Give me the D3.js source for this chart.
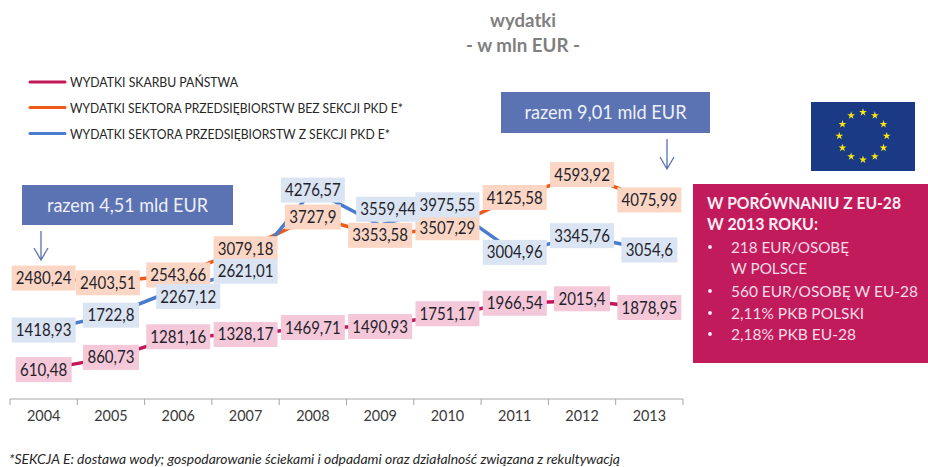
<!DOCTYPE html>
<html><head><meta charset="utf-8">
<script src="https://cdnjs.cloudflare.com/ajax/libs/d3/7.8.5/d3.min.js"></script>
<style>html,body{margin:0;padding:0;background:#fff}svg{display:block;font-family:Lato,sans-serif}</style>
</head><body><svg id="c" width="928" height="467"></svg>
<script>
const years = ["2004","2005","2006","2007","2008","2009","2010","2011","2012","2013"];
const skarb = [610.48,860.73,1281.16,1328.17,1469.71,1490.93,1751.17,1966.54,2015.4,1878.95];
const bezE = [2480.24,2403.51,2543.66,3079.18,3727.9,3353.58,3507.29,4125.58,4593.92,4075.99];
const zE = [1418.93,1722.8,2267.12,2621.01,4276.57,3559.44,3975.55,3004.96,3345.76,3054.6];
const seriesNames = ["WYDATKI SKARBU PAŃSTWA","WYDATKI SEKTORA PRZEDSIĘBIORSTW BEZ SEKCJI PKD E*","WYDATKI SEKTORA PRZEDSIĘBIORSTW Z SEKCJI PKD E*"];
const panelHead = ["W PORÓWNANIU Z EU-28","W 2013 ROKU:"];
const panelItems = [["218 EUR/OSOBĘ","W POLSCE"],["560 EUR/OSOBĘ W EU-28"],["2,11% PKB POLSKI"],["2,18% PKB EU-28"]];

const fmt = v => String(v).replace(".",",");
const svg = d3.select("#c");
const x = d3.scaleBand().domain(years).range([10,683]);
const y = d3.scaleLinear().domain([0,5000]).range([399.5,154.7]);

// Lato drawn narrower, to get the proportions of the reference's humanist face
const fit = (sel, w) => sel.attr("textLength", w).attr("lengthAdjust","spacingAndGlyphs");
const squeeze = (sel, f) => sel.each(function(){
  d3.select(this).attr("textLength", this.getComputedTextLength()*f).attr("lengthAdjust","spacingAndGlyphs");
});

const series = [
  {values:skarb, line:"#c2185b", box:"#f4c7d9", key:"s"},
  {values:bezE,  line:"#ee5a17", box:"#fbd6c4", key:"b"},
  {values:zE,    line:"#4a7cce", box:"#dae4f3", key:"z"}
];
// manual label nudges seen in the reference (series key + year): [dx, dy]
const nudge = {"b2005":[-3,1],"z2006":[10,8],"z2009":[8,-16],"s2012":[0,-2]};

// axis
const axis = d3.axisBottom(x).tickSize(0).tickPadding(11);
const ax = svg.append("g").attr("transform","translate(0,399)").call(axis);
ax.select(".domain").remove();
ax.selectAll("text").attr("font-family","Lato").attr("font-size",16).attr("fill","#3a3a3a").call(squeeze,0.9);
const edges = years.map(d=>x(d)).concat([x.range()[1]]);
ax.append("line").attr("x1",10).attr("x2",683).attr("stroke","#a6a6a6").attr("stroke-width",1);
ax.selectAll(".edge").data(edges).join("line").attr("class","edge")
  .attr("x1",d=>d).attr("x2",d=>d).attr("y1",0).attr("y2",6).attr("stroke","#a6a6a6");

// lines
const cx = d => x(d)+x.bandwidth()/2;
const line = d3.line().x((v,i)=>cx(years[i])).y(v=>y(v));
series.forEach(s=>{
  svg.append("path").attr("d",line(s.values)).attr("fill","none")
    .attr("stroke",s.line).attr("stroke-width",3.5).attr("stroke-linejoin","round");
});

// labels
series.forEach(s=>{
  const g = svg.append("g");
  s.values.forEach((v,i)=>{
    const n = nudge[s.key+years[i]]||[0,0];
    const px = cx(years[i])+n[0], py = y(v)+n[1];
    const t = fmt(v);
    const w = t.replace(",","").length>=6 ? 64 : 56;
    const gg = g.append("g");
    gg.append("rect").attr("x",px-w/2).attr("y",py-12.5).attr("width",w).attr("height",25).attr("fill",s.box);
    gg.append("text").attr("x",px).attr("y",py+6).attr("text-anchor","middle")
      .attr("font-size",17).attr("fill","#241f2b").text(t).call(squeeze,0.885);
  });
});

// titles
fit(svg.append("text").attr("x",523).attr("y",27).attr("text-anchor","middle").attr("font-weight",700)
  .attr("font-size",18).attr("fill","#7f7f7f").text("wydatki"),66);
fit(svg.append("text").attr("x",523).attr("y",52).attr("text-anchor","middle").attr("font-weight",700)
  .attr("font-size",18).attr("fill","#7f7f7f").text("- w mln EUR -"),114);

// legend
const legendW = [168,333,320];
series.forEach((s,i)=>{
  const ly = [82,107.5,133.5][i];
  svg.append("line").attr("x1",30).attr("x2",65).attr("y1",ly).attr("y2",ly)
    .attr("stroke",s.line).attr("stroke-width",3).attr("stroke-linecap","round");
  fit(svg.append("text").attr("x",70).attr("y",ly+5).attr("font-size",14).attr("fill","#262626").text(seriesNames[i]),legendW[i]);
});

// callouts
function callout(x0,y0,w,h,txt,tw){
  svg.append("rect").attr("x",x0).attr("y",y0).attr("width",w).attr("height",h).attr("fill","#5b72b3");
  fit(svg.append("text").attr("x",x0+w/2).attr("y",y0+h/2+6.5).attr("text-anchor","middle")
    .attr("font-size",19).attr("fill","#eef0f8").text(txt),tw);
}
callout(22,185,211,40,"razem 4,51 mld EUR",161);
callout(501,92,209,41,"razem 9,01 mld EUR",162);
function arrow(ax0,y0,y1){
  svg.append("path").attr("d",`M${ax0},${y0}V${y1}M${ax0-7},${y1-12}L${ax0},${y1}L${ax0+7},${y1-12}`)
    .attr("fill","none").attr("stroke","#5b72b3").attr("stroke-width",1.3);
}
arrow(41,231,260);
arrow(667,139,169);

// flag
svg.append("rect").attr("x",811).attr("y",102).attr("width",104).attr("height",69).attr("fill","#1b3a86");
const star = d3.symbol().type(d3.symbolStar).size(19);
d3.range(12).forEach(i=>{
  const a = i*Math.PI/6;
  svg.append("path").attr("d",star()).attr("fill","#f6e80f")
    .attr("transform",`translate(${863+23.7*Math.sin(a)},${136-23.7*Math.cos(a)})`);
});

// panel
svg.append("rect").attr("x",693).attr("y",184).attr("width",235).attr("height",179).attr("fill","#c21b5c");
const headW = [194,111];
panelHead.forEach((t,i)=>{
  fit(svg.append("text").attr("x",707).attr("y",[209,230][i]).attr("font-weight",700)
    .attr("font-size",17).attr("fill","#fbeef3").text(t),headW[i]);
});
const rowY = [253,274,297,319,340];
const rowW = [118,76,187,133,125];
let r = 0;
panelItems.forEach(lines=>{
  svg.append("circle").attr("cx",710).attr("cy",rowY[r]-6).attr("r",1.9).attr("fill","#fbeef3");
  lines.forEach(t=>{
    fit(svg.append("text").attr("x",731).attr("y",rowY[r]).attr("font-size",15.8).attr("fill","#f7dbe6").text(t),rowW[r]);
    r++;
  });
});

// footnote
fit(svg.append("text").attr("x",9).attr("y",464).attr("font-style","italic").attr("font-size",14).attr("fill","#262626")
  .text("*SEKCJA E: dostawa wody; gospodarowanie ściekami i odpadami oraz działalność związana z rekultywacją"),611);
</script></body></html>
